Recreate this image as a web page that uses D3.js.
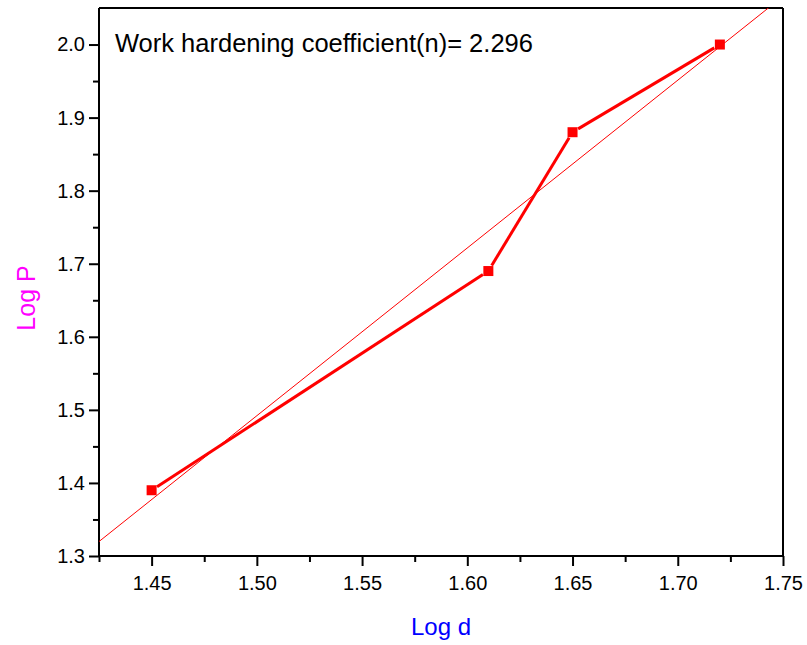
<!DOCTYPE html>
<html>
<head>
<meta charset="utf-8">
<script src="https://cdn.jsdelivr.net/npm/d3@7"></script>
<style>
  html, body { margin: 0; padding: 0; background: #fff; }
  svg { display: block; font-family: "Liberation Sans", Arial, sans-serif; }
</style>
</head>
<body>
<svg id="chart" width="807" height="645"></svg>
<script>
// ---- data ----
const logD = [1.45, 1.61, 1.65, 1.72];
const logP = [1.39, 1.69, 1.88, 2.00];
const fitSlope = 2.296;
const fitIntercept = -1.952;
const xTicks = [1.45, 1.50, 1.55, 1.60, 1.65, 1.70, 1.75];
const xMinorTicks = [1.425, 1.475, 1.525, 1.575, 1.625, 1.675, 1.725];
const yTicks = [1.3, 1.4, 1.5, 1.6, 1.7, 1.8, 1.9, 2.0];
const yMinorTicks = [1.35, 1.45, 1.55, 1.65, 1.75, 1.85, 1.95];
const titleText = "Work hardening coefficient(n)= 2.296";

// ---- layout ----
const svg = d3.select("#chart");
const L = 99, R = 783, T = 8, B = 556;
const x = d3.scaleLinear().domain([1.425, 1.75]).range([L, R]);
const y = d3.scaleLinear().domain([1.3, 2.05]).range([B, T]);

svg.append("defs").append("clipPath").attr("id", "plotclip")
  .append("rect").attr("x", L).attr("y", T).attr("width", R - L).attr("height", B - T);

// frame top & right
svg.append("line").attr("x1", L).attr("x2", R).attr("y1", T).attr("y2", T)
  .attr("stroke", "#000").attr("stroke-width", 2);
svg.append("line").attr("x1", R).attr("x2", R).attr("y1", T).attr("y2", B)
  .attr("stroke", "#000").attr("stroke-width", 2);

// bottom axis
const xAxis = svg.append("g").attr("transform", `translate(0,${B})`)
  .call(d3.axisBottom(x).tickValues(xTicks).tickFormat(d3.format(".2f"))
    .tickSize(10).tickSizeOuter(0).tickPadding(10));
const xMinor = svg.append("g").attr("transform", `translate(0,${B})`)
  .call(d3.axisBottom(x).tickValues(xMinorTicks).tickFormat("").tickSize(6).tickSizeOuter(0));
xMinor.select(".domain").remove();

// left axis
const yAxis = svg.append("g").attr("transform", `translate(${L},0)`)
  .call(d3.axisLeft(y).tickValues(yTicks).tickFormat(d3.format(".1f"))
    .tickSize(10).tickSizeOuter(0).tickPadding(4));
const yMinor = svg.append("g").attr("transform", `translate(${L},0)`)
  .call(d3.axisLeft(y).tickValues(yMinorTicks).tickFormat("").tickSize(6).tickSizeOuter(0));
yMinor.select(".domain").remove();

[xAxis, yAxis, xMinor, yMinor].forEach(g => {
  g.attr("font-size", 20).attr("font-family", "Liberation Sans, Arial, sans-serif");
  g.selectAll(".domain").attr("stroke", "#000").attr("stroke-width", 2);
  g.selectAll(".tick line").attr("stroke", "#000").attr("stroke-width", 2);
  g.selectAll(".tick text").attr("fill", "#000");
});
xAxis.select(".domain").attr("d", `M${L},0H${R}`);
yAxis.select(".domain").attr("d", `M0,${T}V${B}`);

// fit line
const plot = svg.append("g").attr("clip-path", "url(#plotclip)");
const fx0 = 1.40, fx1 = 1.78;
plot.append("line")
  .attr("x1", x(fx0)).attr("y1", y(fitSlope * fx0 + fitIntercept))
  .attr("x2", x(fx1)).attr("y2", y(fitSlope * fx1 + fitIntercept))
  .attr("stroke", "#ff0000").attr("stroke-width", 1);

// data segments with small gaps at markers
const pts = logD.map((d, i) => [x(d), y(logP[i])]);
const gap = 6.5;
for (let i = 0; i < pts.length - 1; i++) {
  const [ax, ay] = pts[i], [bx, by] = pts[i + 1];
  const len = Math.hypot(bx - ax, by - ay);
  const ux = (bx - ax) / len, uy = (by - ay) / len;
  svg.append("line")
    .attr("x1", ax + ux * gap).attr("y1", ay + uy * gap)
    .attr("x2", bx - ux * gap).attr("y2", by - uy * gap)
    .attr("stroke", "#ff0000").attr("stroke-width", 3);
}
const ms = 10;
svg.selectAll("rect.marker").data(logD).join("rect").attr("class", "marker")
  .attr("x", (d) => x(d) - ms / 2)
  .attr("y", (d, i) => y(logP[i]) - ms / 2)
  .attr("width", ms).attr("height", ms).attr("fill", "#ff0000");

// title text
svg.append("text").attr("x", 115).attr("y", 52).attr("font-size", 25.5)
  .attr("fill", "#000").text(titleText);

// axis titles
svg.append("text").attr("x", 441).attr("y", 635).attr("text-anchor", "middle")
  .attr("font-size", 24).attr("fill", "#0000ff").text("Log d");
svg.append("text").attr("transform", "translate(35,298) rotate(-90)")
  .attr("text-anchor", "middle").attr("font-size", 25).attr("fill", "#ff00ff").text("Log P");
</script>
</body>
</html>
